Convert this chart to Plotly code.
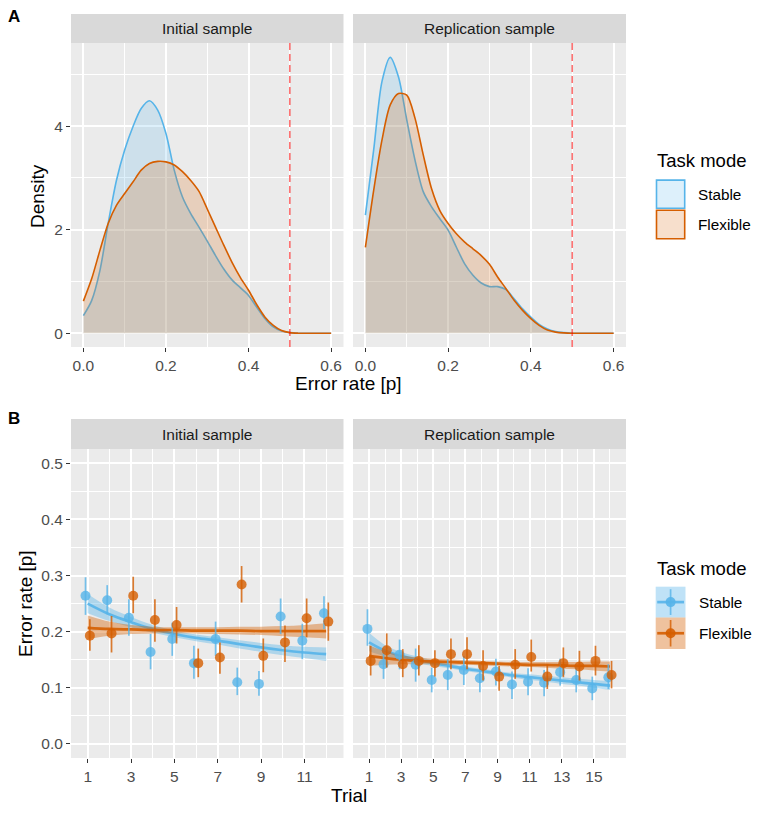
import numpy as np
import plotly.graph_objects as go

# ---------------- DATA ----------------
samples = ["Initial sample", "Replication sample"]
modes = ["Stable", "Flexible"]

dens_x = [0.00, 0.02, 0.04, 0.06, 0.08, 0.10, 0.12, 0.14, 0.16, 0.18, 0.20,
          0.22, 0.24, 0.26, 0.28, 0.30, 0.32, 0.34, 0.36, 0.38, 0.40,
          0.42, 0.44, 0.46, 0.48, 0.50, 0.52, 0.54, 0.56, 0.58, 0.60]
dens_init_stable = [0.34, 0.63, 1.21, 2.12, 2.95, 3.54, 3.99, 4.34, 4.49, 4.31, 3.86,
                    3.15, 2.63, 2.31, 2.05, 1.78, 1.50, 1.24, 1.03, 0.88, 0.73,
                    0.50, 0.28, 0.12, 0.04, 0.01, 0.0, 0.0, 0.0, 0.0, 0.0]
dens_init_flex = [0.62, 1.05, 1.60, 2.12, 2.47, 2.70, 2.92, 3.15, 3.28, 3.32, 3.31,
                  3.25, 3.12, 2.95, 2.74, 2.40, 2.05, 1.70, 1.37, 1.08, 0.83,
                  0.55, 0.31, 0.15, 0.05, 0.01, 0.0, 0.0, 0.0, 0.0, 0.0]
dens_rep_stable = [2.28, 3.54, 4.86, 5.33, 4.95, 4.12, 3.34, 2.73, 2.44, 2.21, 1.99,
                   1.66, 1.34, 1.12, 0.97, 0.90, 0.90, 0.84, 0.66, 0.47, 0.31,
                   0.17, 0.08, 0.03, 0.01, 0.0, 0.0, 0.0, 0.0, 0.0, 0.0]
dens_rep_flex = [1.66, 2.76, 3.73, 4.41, 4.63, 4.60, 4.15, 3.44, 2.79, 2.37, 2.12,
                 1.92, 1.76, 1.63, 1.50, 1.33, 1.08, 0.86, 0.63, 0.44, 0.28,
                 0.15, 0.06, 0.02, 0.005, 0.0, 0.0, 0.0, 0.0, 0.0, 0.0]
cutoff = 0.5

trials_init = list(range(1, 13))
trials_rep = list(range(1, 17))

init_stable_mean = [0.264, 0.256, 0.225, 0.164, 0.187, 0.144, 0.187, 0.110, 0.107, 0.227, 0.184, 0.233]
init_stable_lo = [0.230, 0.231, 0.193, 0.133, 0.157, 0.116, 0.157, 0.087, 0.086, 0.196, 0.151, 0.205]
init_stable_hi = [0.297, 0.283, 0.258, 0.196, 0.216, 0.175, 0.218, 0.136, 0.130, 0.259, 0.214, 0.263]
init_flex_mean = [0.193, 0.197, 0.264, 0.221, 0.212, 0.144, 0.154, 0.284, 0.157, 0.181, 0.224, 0.218]
init_flex_lo = [0.166, 0.163, 0.233, 0.182, 0.179, 0.119, 0.125, 0.252, 0.128, 0.146, 0.190, 0.184]
init_flex_hi = [0.222, 0.228, 0.298, 0.258, 0.244, 0.170, 0.181, 0.317, 0.188, 0.211, 0.259, 0.252]

rep_stable_mean = [0.205, 0.142, 0.159, 0.141, 0.114, 0.123, 0.132, 0.117, 0.129, 0.106, 0.111, 0.109, 0.128, 0.114, 0.099, 0.119]
rep_stable_lo = [0.175, 0.116, 0.133, 0.111, 0.092, 0.096, 0.105, 0.092, 0.104, 0.080, 0.087, 0.085, 0.104, 0.092, 0.078, 0.098]
rep_stable_hi = [0.240, 0.169, 0.186, 0.170, 0.136, 0.151, 0.157, 0.142, 0.152, 0.129, 0.135, 0.132, 0.152, 0.136, 0.120, 0.142]
rep_flex_mean = [0.148, 0.167, 0.142, 0.148, 0.144, 0.160, 0.160, 0.139, 0.120, 0.141, 0.155, 0.120, 0.144, 0.138, 0.148, 0.123]
rep_flex_lo = [0.122, 0.136, 0.119, 0.122, 0.120, 0.133, 0.133, 0.113, 0.095, 0.116, 0.129, 0.098, 0.119, 0.113, 0.122, 0.099]
rep_flex_hi = [0.175, 0.197, 0.169, 0.176, 0.167, 0.188, 0.190, 0.167, 0.139, 0.169, 0.186, 0.142, 0.172, 0.166, 0.175, 0.148]

# fitted curves (at each trial)
init_stable_fit = [0.250, 0.231, 0.217, 0.205, 0.196, 0.189, 0.184, 0.178, 0.172, 0.167, 0.163, 0.160]
init_stable_fit_lo = [0.233, 0.219, 0.208, 0.198, 0.190, 0.183, 0.177, 0.170, 0.164, 0.158, 0.153, 0.148]
init_stable_fit_hi = [0.267, 0.243, 0.226, 0.212, 0.202, 0.195, 0.190, 0.185, 0.180, 0.176, 0.173, 0.172]
init_flex_fit = [0.207, 0.205, 0.204, 0.203, 0.203, 0.202, 0.202, 0.202, 0.201, 0.201, 0.201, 0.201]
init_flex_fit_lo = [0.187, 0.193, 0.196, 0.197, 0.197, 0.197, 0.196, 0.195, 0.194, 0.192, 0.190, 0.188]
init_flex_fit_hi = [0.229, 0.218, 0.212, 0.209, 0.208, 0.208, 0.208, 0.209, 0.209, 0.210, 0.212, 0.215]

rep_stable_fit = [0.181, 0.166, 0.157, 0.150, 0.144, 0.139, 0.134, 0.130, 0.126, 0.122, 0.119, 0.116, 0.113, 0.110, 0.107, 0.104]
rep_stable_fit_lo = [0.165, 0.156, 0.150, 0.144, 0.139, 0.135, 0.130, 0.126, 0.122, 0.118, 0.114, 0.111, 0.107, 0.104, 0.100, 0.096]
rep_stable_fit_hi = [0.198, 0.176, 0.164, 0.156, 0.149, 0.143, 0.138, 0.134, 0.130, 0.126, 0.124, 0.121, 0.119, 0.116, 0.114, 0.112]
rep_flex_fit = [0.157, 0.153, 0.150, 0.148, 0.147, 0.146, 0.145, 0.144, 0.143, 0.142, 0.141, 0.141, 0.140, 0.139, 0.139, 0.138]
rep_flex_fit_lo = [0.139, 0.141, 0.142, 0.142, 0.142, 0.141, 0.141, 0.140, 0.139, 0.138, 0.137, 0.136, 0.134, 0.133, 0.131, 0.129]
rep_flex_fit_hi = [0.176, 0.165, 0.158, 0.154, 0.152, 0.151, 0.149, 0.148, 0.147, 0.146, 0.146, 0.146, 0.146, 0.146, 0.147, 0.147]

# ---------------- STYLE ----------------
W, H = 765, 819
BLUE = (86, 180, 233)
ORANGE = (213, 94, 0)
FONT = "Liberation Sans"
PANEL_BG = "#EBEBEB"
STRIP_BG = "#D9D9D9"


def rgba(c, a):
    return f"rgba({c[0]},{c[1]},{c[2]},{a})"


def fx(px):
    return px / W


def fy(py):
    return 1 - py / H


# pixel layout
xL = (71, 343.5)
xR = (353, 626)
yA = (43, 347)
yA_strip = (14, 43)
yB = (449.3, 758)
yB_strip = (419, 449.3)

fig = go.Figure()

# ---------- Panel A: densities ----------
dens_sets = [
    ("x", "y", dens_init_stable, dens_init_flex),
    ("x2", "y2", dens_rep_stable, dens_rep_flex),
]
for xa, ya, ds, dfl in dens_sets:
    for vals, col in ((ds, BLUE), (dfl, ORANGE)):
        fig.add_trace(go.Scatter(
            x=dens_x, y=vals, xaxis=xa, yaxis=ya, mode="lines",
            line=dict(color=rgba(col, 1), width=1.6, shape="spline", smoothing=0.8),
            fill="tozeroy", fillcolor=rgba(col, 0.2), showlegend=False,
            hoverinfo="skip"))

# ---------- Panel B: error rates by trial ----------
b_sets = [
    ("x3", "y3", trials_init,
     (init_stable_mean, init_stable_lo, init_stable_hi, init_stable_fit, init_stable_fit_lo, init_stable_fit_hi),
     (init_flex_mean, init_flex_lo, init_flex_hi, init_flex_fit, init_flex_fit_lo, init_flex_fit_hi)),
    ("x4", "y4", trials_rep,
     (rep_stable_mean, rep_stable_lo, rep_stable_hi, rep_stable_fit, rep_stable_fit_lo, rep_stable_fit_hi),
     (rep_flex_mean, rep_flex_lo, rep_flex_hi, rep_flex_fit, rep_flex_fit_lo, rep_flex_fit_hi)),
]
dodge = 0.1
for xa, ya, tr, st, fl in b_sets:
    tr = np.array(tr, dtype=float)
    # ribbons + fit lines
    for d, col in ((st, BLUE), (fl, ORANGE)):
        fig.add_trace(go.Scatter(x=tr, y=d[4], xaxis=xa, yaxis=ya, mode="lines",
                                 line=dict(width=0, shape="spline"), showlegend=False,
                                 hoverinfo="skip"))
        fig.add_trace(go.Scatter(x=tr, y=d[5], xaxis=xa, yaxis=ya, mode="lines",
                                 line=dict(width=0, shape="spline"), fill="tonexty",
                                 fillcolor=rgba(col, 0.4), showlegend=False,
                                 hoverinfo="skip"))
        fig.add_trace(go.Scatter(x=tr, y=d[3], xaxis=xa, yaxis=ya, mode="lines",
                                 line=dict(color=rgba(col, 0.9), width=2.7, shape="spline"),
                                 showlegend=False, hoverinfo="skip"))
    # points with error bars
    for d, col, off in ((st, BLUE, -dodge), (fl, ORANGE, dodge)):
        m = np.array(d[0])
        lo = np.array(d[1])
        hi = np.array(d[2])
        fig.add_trace(go.Scatter(
            x=tr + off, y=m, xaxis=xa, yaxis=ya, mode="markers",
            marker=dict(color=rgba(col, 0.8), size=10, line=dict(width=0)),
            error_y=dict(type="data", symmetric=False, array=hi - m, arrayminus=m - lo,
                         color=rgba(col, 0.8), thickness=1.7, width=0),
            showlegend=False, hoverinfo="skip"))

# ---------- axes ----------
tickfont = dict(family=FONT, size=15.5, color="#4D4D4D")
common = dict(showline=False, zeroline=False, ticks="outside", ticklen=4,
              tickwidth=1.2, tickcolor="#333333", tickfont=tickfont, automargin=False,
              showgrid=True, gridcolor="white", gridwidth=1.8)

minor_grid = dict(showgrid=True, gridcolor="white", gridwidth=0.9, ticks="")
ax_a_x = dict(range=[-0.03, 0.63], tick0=0, dtick=0.2, tickformat=".1f",
              minor=dict(tick0=0, dtick=0.1, **minor_grid))
ax_a_y = dict(range=[-0.267, 5.607], tick0=0, dtick=2,
              minor=dict(tick0=0, dtick=1, **minor_grid))
ax_b_y = dict(range=[-0.025, 0.525], tick0=0, dtick=0.1, tickformat=".1f",
              minor=dict(tick0=0, dtick=0.05, **minor_grid))

fig.update_layout(
    xaxis=dict(**common, **ax_a_x, domain=[fx(xL[0]), fx(xL[1])], anchor="y"),
    yaxis=dict(**common, **ax_a_y, domain=[fy(yA[1]), fy(yA[0])], anchor="x"),
    xaxis2=dict(**common, **ax_a_x, domain=[fx(xR[0]), fx(xR[1])], anchor="y2"),
    yaxis2=dict(**{**common, "ticks": ""}, **ax_a_y, showticklabels=False,
                domain=[fy(yA[1]), fy(yA[0])], anchor="x2"),
    xaxis3=dict(**common, range=[0.23, 12.8], tickmode="array", tickvals=trials_init[::2],
                minor=dict(tickmode="array", tickvals=trials_init[1::2], **minor_grid),
                domain=[fx(xL[0]), fx(xL[1])], anchor="y3"),
    yaxis3=dict(**common, **ax_b_y, domain=[fy(yB[1]), fy(yB[0])], anchor="x3"),
    xaxis4=dict(**common, range=[0.0, 17.0], tickmode="array", tickvals=trials_rep[::2],
                minor=dict(tickmode="array", tickvals=trials_rep[1::2], **minor_grid),
                domain=[fx(xR[0]), fx(xR[1])], anchor="y4"),
    yaxis4=dict(**{**common, "ticks": ""}, **ax_b_y, showticklabels=False,
                domain=[fy(yB[1]), fy(yB[0])], anchor="x4"),
)

shapes = []
annotations = []

# cutoff lines
for xa, ya in (("x", "y"), ("x2", "y2")):
    shapes.append(dict(type="line", xref=xa, yref=f"{ya} domain",
                       x0=cutoff, x1=cutoff, y0=0, y1=1,
                       line=dict(color="rgba(255,0,0,0.55)", width=1.6, dash="7px,4px"),
                       layer="above"))

# strips
for (sy0, sy1) in (yA_strip, yB_strip):
    for (sx0, sx1), label in ((xL, samples[0]), (xR, samples[1])):
        shapes.append(dict(type="rect", xref="paper", yref="paper",
                           x0=fx(sx0), x1=fx(sx1), y0=fy(sy1), y1=fy(sy0),
                           fillcolor=STRIP_BG, line=dict(width=0), layer="below"))
        annotations.append(dict(text=label, xref="paper", yref="paper",
                                x=fx((sx0 + sx1) / 2), y=fy((sy0 + sy1) / 2),
                                showarrow=False, xanchor="center", yanchor="middle",
                                font=dict(family=FONT, size=15.5, color="#1A1A1A")))

# panel letters
for lab, py in (("A", 16), ("B", 418.5)):
    annotations.append(dict(text=f"<b>{lab}</b>", xref="paper", yref="paper",
                            x=fx(14), y=fy(py), showarrow=False,
                            xanchor="center", yanchor="middle",
                            font=dict(family=FONT, size=17, color="black")))

# axis titles
title_font = dict(family=FONT, size=19, color="black")
annotations += [
    dict(text="Density", xref="paper", yref="paper", x=fx(37.5), y=fy(196.5),
         textangle=-90, showarrow=False, xanchor="center", yanchor="middle", font=title_font),
    dict(text="Error rate [p]", xref="paper", yref="paper", x=fx(348.5), y=fy(383.5),
         showarrow=False, xanchor="center", yanchor="middle", font=title_font),
    dict(text="Error rate [p]", xref="paper", yref="paper", x=fx(25), y=fy(604),
         textangle=-90, showarrow=False, xanchor="center", yanchor="middle", font=title_font),
    dict(text="Trial", xref="paper", yref="paper", x=fx(348.5), y=fy(795),
         showarrow=False, xanchor="center", yanchor="middle", font=title_font),
]

# legends
leg_font = dict(family=FONT, size=15.3, color="black")
legend_title_font = dict(family=FONT, size=18.5, color="black")
kx0, kx1 = 655.7, 685.5
# Legend A
annotations.append(dict(text="Task mode", xref="paper", yref="paper", x=fx(655), y=fy(160.5),
                        showarrow=False, xanchor="left", yanchor="middle", font=legend_title_font))
for (ky0, ky1), col, lab in (((179.3, 209.0), BLUE, modes[0]), ((209.5, 239.5), ORANGE, modes[1])):
    shapes.append(dict(type="rect", xref="paper", yref="paper",
                       x0=fx(kx0 + 0.8), x1=fx(kx1 - 0.8), y0=fy(ky1 - 0.8), y1=fy(ky0 + 0.8),
                       fillcolor=rgba(col, 0.2), line=dict(color=rgba(col, 1), width=1.6)))
    annotations.append(dict(text=lab, xref="paper", yref="paper", x=fx(696),
                            y=fy((ky0 + ky1) / 2), showarrow=False, xanchor="left",
                            yanchor="middle", font=leg_font))
# Legend B
annotations.append(dict(text="Task mode", xref="paper", yref="paper", x=fx(655), y=fy(568),
                        showarrow=False, xanchor="left", yanchor="middle", font=legend_title_font))
for (ky0, ky1), col, lab in (((586.7, 617.5), BLUE, modes[0]), ((617.5, 649.0), ORANGE, modes[1])):
    cx = (kx0 + kx1) / 2
    cy = (ky0 + ky1) / 2
    shapes.append(dict(type="rect", xref="paper", yref="paper",
                       x0=fx(kx0), x1=fx(kx1), y0=fy(ky1), y1=fy(ky0),
                       fillcolor=rgba(col, 0.38), line=dict(width=0)))
    shapes.append(dict(type="line", xref="paper", yref="paper",
                       x0=fx(kx0 + 1.5), x1=fx(kx1 - 1.5), y0=fy(cy), y1=fy(cy),
                       line=dict(color=rgba(col, 0.9), width=2.7)))
    shapes.append(dict(type="line", xref="paper", yref="paper",
                       x0=fx(cx), x1=fx(cx), y0=fy(ky0 + 2.5), y1=fy(ky1 - 2.5),
                       line=dict(color=rgba(col, 0.8), width=1.7)))
    shapes.append(dict(type="circle", xref="paper", yref="paper",
                       x0=fx(cx - 5), x1=fx(cx + 5), y0=fy(cy + 5), y1=fy(cy - 5),
                       fillcolor=rgba(col, 0.9), line=dict(width=0)))
    annotations.append(dict(text=lab, xref="paper", yref="paper", x=fx(696.5),
                            y=fy(cy), showarrow=False, xanchor="left",
                            yanchor="middle", font=leg_font))

fig.update_layout(
    width=W, height=H,
    margin=dict(l=0, r=0, t=0, b=0, autoexpand=False),
    paper_bgcolor="white", plot_bgcolor=PANEL_BG,
    showlegend=False,
    shapes=shapes, annotations=annotations,
    font=dict(family=FONT),
)

fig.write_html("out.html", config={"displayModeBar": False},
               post_script="document.body.style.margin='0';document.body.style.padding='0';")
